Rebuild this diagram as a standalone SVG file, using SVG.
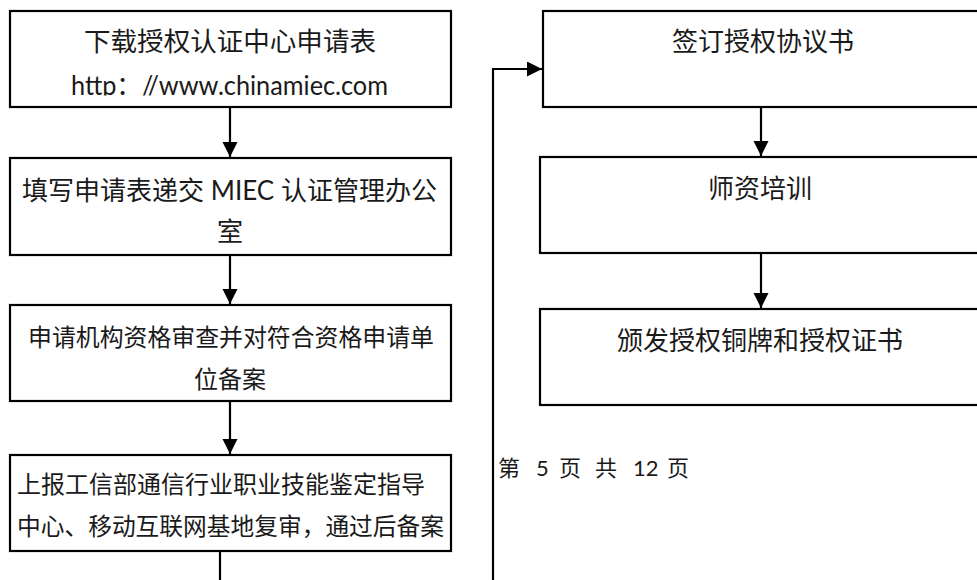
<svg xmlns="http://www.w3.org/2000/svg" width="977" height="580" viewBox="0 0 977 580">
<style>
  .box { fill: #ffffff; stroke: #000000; stroke-width: 2.2; }
  .t { font-family: Lato, "Noto Sans CJK SC", sans-serif; fill: #1a1a1a; }
  .t26 { font-size: 26px; }
  .t24 { font-size: 24px; }
  .t22 { font-size: 22px; }
  .mid { text-anchor: middle; }
  .conn { fill: none; stroke: #000000; stroke-width: 2.2; }
</style>
<defs>
  <marker id="arrow" markerUnits="userSpaceOnUse" markerWidth="16" markerHeight="16" refX="15" refY="7.5" orient="auto">
    <path d="M0,0 L15,7.5 L0,15 Z" fill="#000000"/>
  </marker>
  <clipPath id="clip1">
    <rect x="10" y="11" width="441" height="84.5"/>
  </clipPath>
</defs>
<rect width="977" height="580" fill="#ffffff"/>

<g id="n1">
  <rect class="box" x="10" y="11" width="441" height="96"/>
  <g clip-path="url(#clip1)">
    <text class="t t26" x="84" y="51" textLength="292" lengthAdjust="spacingAndGlyphs">下载授权认证中心申请表</text>
    <text class="t t26" x="71" y="95" textLength="317" lengthAdjust="spacingAndGlyphs">http：//www.chinamiec.com</text>
  </g>
</g>
<g id="n2">
  <rect class="box" x="10" y="158" width="441" height="97"/>
  <text class="t t26" x="22" y="200" textLength="415" lengthAdjust="spacingAndGlyphs">填写申请表递交 MIEC 认证管理办公</text>
  <text class="t t26 mid" x="230" y="241">室</text>
</g>
<g id="n3">
  <rect class="box" x="10" y="305" width="441" height="96"/>
  <text class="t t24" x="28" y="346" textLength="406" lengthAdjust="spacingAndGlyphs">申请机构资格审查并对符合资格申请单</text>
  <text class="t t24 mid" x="230" y="388">位备案</text>
</g>
<g id="n4">
  <rect class="box" x="10" y="455" width="441" height="96"/>
  <text class="t t24" x="17" y="493" textLength="408" lengthAdjust="spacingAndGlyphs">上报工信部通信行业职业技能鉴定指导</text>
  <text class="t t24" x="17" y="535" textLength="427" lengthAdjust="spacingAndGlyphs">中心、移动互联网基地复审，通过后备案</text>
</g>
<g id="n5">
  <rect class="box" x="543" y="11" width="450" height="96"/>
  <text class="t t26 mid" x="763" y="51">签订授权协议书</text>
</g>
<g id="n6">
  <rect class="box" x="540" y="157" width="453" height="96"/>
  <text class="t t26 mid" x="760" y="198">师资培训</text>
</g>
<g id="n7">
  <rect class="box" x="540" y="309" width="453" height="96"/>
  <text class="t t26 mid" x="760" y="350">颁发授权铜牌和授权证书</text>
</g>

<g id="footer">
  <text class="t t22" y="476"><tspan x="498">第</tspan><tspan x="536">5</tspan><tspan x="559">页</tspan><tspan x="595">共</tspan><tspan x="633">12</tspan><tspan x="667">页</tspan></text>
</g>

<g id="connectors">
  <line class="conn" x1="230" y1="107" x2="230" y2="157" marker-end="url(#arrow)"/>
  <line class="conn" x1="230" y1="255" x2="230" y2="304" marker-end="url(#arrow)"/>
  <line class="conn" x1="230" y1="401" x2="230" y2="454" marker-end="url(#arrow)"/>
  <line class="conn" x1="220" y1="551" x2="220" y2="582"/>
  <path class="conn" d="M493,582 V69 H542" marker-end="url(#arrow)"/>
  <line class="conn" x1="761" y1="107" x2="761" y2="156" marker-end="url(#arrow)"/>
  <line class="conn" x1="761" y1="253" x2="761" y2="308" marker-end="url(#arrow)"/>
</g>
</svg>
